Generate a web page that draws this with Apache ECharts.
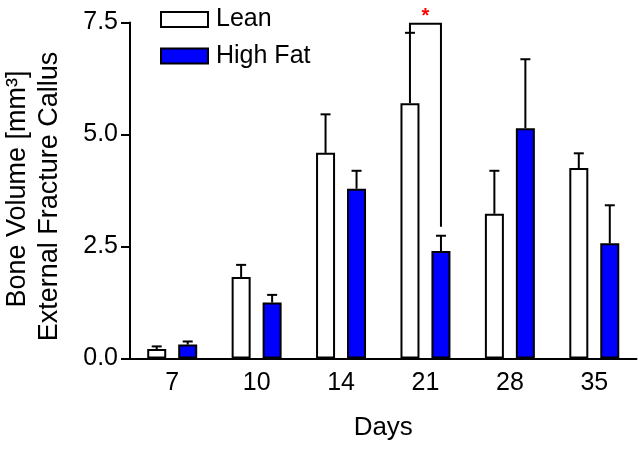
<!DOCTYPE html>
<html>
<head>
<meta charset="utf-8">
<script src="https://cdn.jsdelivr.net/npm/echarts@6/dist/echarts.min.js"></script>
<style>
html,body{margin:0;padding:0;background:#fff;}
#chart{width:638px;height:453px;}
</style>
</head>
<body>
<div id="chart"></div>
<script>
// ---- data ----
const days = ['7', '10', '14', '21', '28', '35'];
const leanMean = [0.21, 1.82, 4.59, 5.70, 3.23, 4.25];
const leanSem  = [0.06, 0.27, 0.86, 1.57, 0.96, 0.33];
const hfMean   = [0.31, 1.25, 3.79, 2.40, 5.14, 2.57];
const hfSem    = [0.07, 0.17, 0.40, 0.34, 1.54, 0.85];
const yTicks   = [0, 2.5, 5.0, 7.5];
// significance bracket: [category index, bracket top, left leg end, right leg end]
const sigBracket = [[3, 7.47, 7.27, 2.94]];
const sigLabel = '*';

const FONT = 'Liberation Sans, Arial, sans-serif';
const BAR_OFFSET = 15.5;   // px offset of each bar centre from category centre
const CAP = 10;            // error-bar cap width

const chart = echarts.init(document.getElementById('chart'));

function errData(means, sems) {
  return means.map((m, i) => [i, m, m + sems[i]]);
}

function errRender(sign) {
  return function (params, api) {
    const c0 = api.coord([api.value(0), api.value(1)]);
    const c1 = api.coord([api.value(0), api.value(2)]);
    const x = c0[0] + sign * BAR_OFFSET;
    const style = { stroke: '#000', lineWidth: 2, fill: null };
    return {
      type: 'group',
      children: [
        { type: 'line', shape: { x1: x, y1: c0[1], x2: x, y2: c1[1] }, style: style },
        { type: 'line', shape: { x1: x - CAP / 2, y1: c1[1], x2: x + CAP / 2, y2: c1[1] }, style: style }
      ]
    };
  };
}

const option = {
  animation: false,
  backgroundColor: '#fff',
  textStyle: { fontFamily: FONT },
  grid: { left: 130, right: 1.5, top: 22.5, bottom: 94.5, containLabel: false },
  legend: {
    data: ['Lean', 'High Fat'],
    orient: 'vertical',
    icon: 'rect',
    left: 160,
    top: 7,
    padding: 0,
    itemWidth: 47,
    itemHeight: 15,
    itemGap: 11.6,
    textStyle: { fontSize: 25, color: '#000', fontFamily: FONT, padding: [0, 0, 0, 3] }
  },
  xAxis: {
    type: 'category',
    data: days,
    axisLine: { lineStyle: { color: '#000', width: 2 } },
    axisTick: { alignWithLabel: true, length: 8, lineStyle: { color: '#000', width: 2 } },
    axisLabel: { fontSize: 25, color: '#000', margin: 12, fontFamily: FONT },
    name: 'Days',
    nameLocation: 'middle',
    nameGap: 56,
    nameTextStyle: { fontSize: 26, color: '#000', fontFamily: FONT, verticalAlign: 'top' }
  },
  yAxis: {
    type: 'value',
    min: yTicks[0],
    max: yTicks[yTicks.length - 1],
    interval: yTicks[1] - yTicks[0],
    axisLine: { show: true, lineStyle: { color: '#000', width: 2 } },
    axisTick: { show: true, length: 9, lineStyle: { color: '#000', width: 2 } },
    splitLine: { show: false },
    axisLabel: { fontSize: 25, color: '#000', margin: 12, fontFamily: FONT, formatter: v => v.toFixed(1) }
  },
  graphic: [
    { type: 'text', x: 18, y: 189, rotation: Math.PI / 2,
      style: { text: 'Bone Volume [mm³]', font: '27px ' + FONT, fill: '#000', align: 'center', verticalAlign: 'middle' } },
    { type: 'text', x: 50, y: 196.5, rotation: Math.PI / 2,
      style: { text: 'External Fracture Callus', font: '27px ' + FONT, fill: '#000', align: 'center', verticalAlign: 'middle' } }
  ],
  series: [
    {
      name: 'Lean', type: 'bar', data: leanMean,
      barWidth: 19, barGap: '63%',
      itemStyle: { color: '#ffffff', borderColor: '#000', borderWidth: 2 }
    },
    {
      name: 'High Fat', type: 'bar', data: hfMean,
      barWidth: 19, barGap: '63%',
      itemStyle: { color: '#0000ff', borderColor: '#000', borderWidth: 2 }
    },
    {
      name: 'leanErr', type: 'custom', data: errData(leanMean, leanSem),
      renderItem: errRender(-1), encode: { x: 0, y: [1, 2] }, z: 5
    },
    {
      name: 'hfErr', type: 'custom', data: errData(hfMean, hfSem),
      renderItem: errRender(1), encode: { x: 0, y: [1, 2] }, z: 5
    },
    {
      name: 'sig', type: 'custom', data: sigBracket, encode: { x: 0, y: [1, 2, 3] }, z: 6,
      renderItem: function (params, api) {
        const top = api.coord([api.value(0), api.value(1)]);
        const lb = api.coord([api.value(0), api.value(2)]);
        const rb = api.coord([api.value(0), api.value(3)]);
        const xl = top[0] - BAR_OFFSET, xr = top[0] + BAR_OFFSET;
        return {
          type: 'group',
          children: [
            { type: 'polyline', shape: { points: [[xl, lb[1]], [xl, top[1]], [xr, top[1]], [xr, rb[1]]] },
              style: { stroke: '#000', lineWidth: 2, fill: null } },
            { type: 'text', x: top[0], y: top[1] + 3,
              style: { text: sigLabel, font: 'bold 20px ' + FONT, fill: '#ff0000', align: 'center', verticalAlign: 'bottom' } }
          ]
        };
      }
    }
  ]
};
chart.setOption(option);
</script>
</body>
</html>
